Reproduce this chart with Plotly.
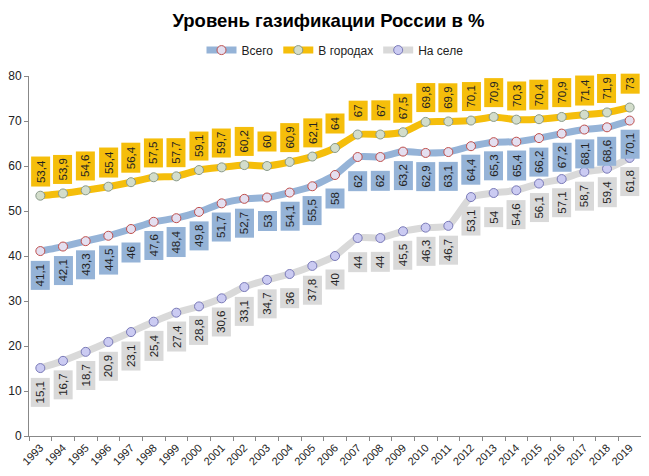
import plotly.graph_objects as go

years = [str(y) for y in range(1993, 2020)]

total = [41.1, 42.1, 43.3, 44.5, 46, 47.6, 48.4, 49.8, 51.7, 52.7, 53, 54.1, 55.5, 58,
         62, 62, 63.2, 62.9, 63.1, 64.4, 65.3, 65.4, 66.2, 67.2, 68.1, 68.6, 70.1]
urban = [53.4, 53.9, 54.6, 55.4, 56.4, 57.5, 57.7, 59.1, 59.7, 60.2, 60, 60.9, 62.1, 64,
         67, 67, 67.5, 69.8, 69.9, 70.1, 70.9, 70.3, 70.4, 70.9, 71.4, 71.9, 73]
rural = [15.1, 16.7, 18.7, 20.9, 23.1, 25.4, 27.4, 28.8, 30.6, 33.1, 34.7, 36, 37.8, 40,
         44, 44, 45.5, 46.3, 46.7, 53.1, 54, 54.6, 56.1, 57.1, 58.7, 59.4, 61.8]

y_ticks = [0, 10, 20, 30, 40, 50, 60, 70, 80]

FONT = "Liberation Sans"

# name, values, line colour, marker fill, marker edge, label box, label shift
series = [
    ("Всего", total, "#95b3d7", "#e4dff0", "#c0504d", "#95b3d7", -24),
    ("В городах", urban, "#f5be0b", "#d3ddcb", "#8a9a8a", "#f5be0b", 24),
    ("На селе", rural, "#d9d9d9", "#cbcbf2", "#7a7ab8", "#d9d9d9", -24),
]


def fmt(v):
    return f"{v:g}".replace(".", ",")


fig = go.Figure()
annotations = []
for name, vals, lc, mfill, medge, box, shift in series:
    fig.add_trace(go.Scatter(
        x=years, y=vals, name=name, mode="lines+markers",
        line=dict(color=lc, width=7, shape="spline", smoothing=0.5),
        marker=dict(size=9, color=mfill, line=dict(color=medge, width=1)),
    ))
    # category index, so "1993" is not read as position 1993
    for i, v in enumerate(vals):
        annotations.append(dict(
            x=i, y=v, xref="x", yref="y", text=fmt(v), textangle=-90,
            showarrow=False, yshift=shift, bgcolor=box, borderpad=3,
            font=dict(family=FONT, size=11.5, color="#222222"),
        ))

# page has an 8px body margin, so the figure is a bit smaller than the window
fig.update_layout(
    width=641, height=468,
    margin=dict(l=21, r=8, t=68, b=40, autoexpand=False),
    paper_bgcolor="white", plot_bgcolor="white",
    title=dict(text="<b>Уровень газификации России в %</b>", x=0.5, xanchor="center",
               y=0.974, yanchor="middle", font=dict(family=FONT, size=18.5, color="black")),
    legend=dict(orientation="h", x=0.5, xanchor="center", y=1.072, yanchor="middle",
                font=dict(family=FONT, size=12, color="#222222"), itemwidth=30),
    annotations=annotations,
    xaxis=dict(type="category", range=[-0.5, len(years) - 0.5], tickson="boundaries",
               ticks="outside", ticklen=4, tickcolor="#888888", showline=True,
               linecolor="#888888", showgrid=False, tickangle=-45, automargin=False,
               tickfont=dict(family=FONT, size=11, color="#222222")),
    yaxis=dict(range=[0, 80], tickvals=y_ticks, ticks="outside", ticklen=4,
               tickcolor="#888888", showline=True, linecolor="#888888", showgrid=False,
               zeroline=False, automargin=False,
               tickfont=dict(family=FONT, size=12, color="#222222")),
)

fig.write_html("out.html")
